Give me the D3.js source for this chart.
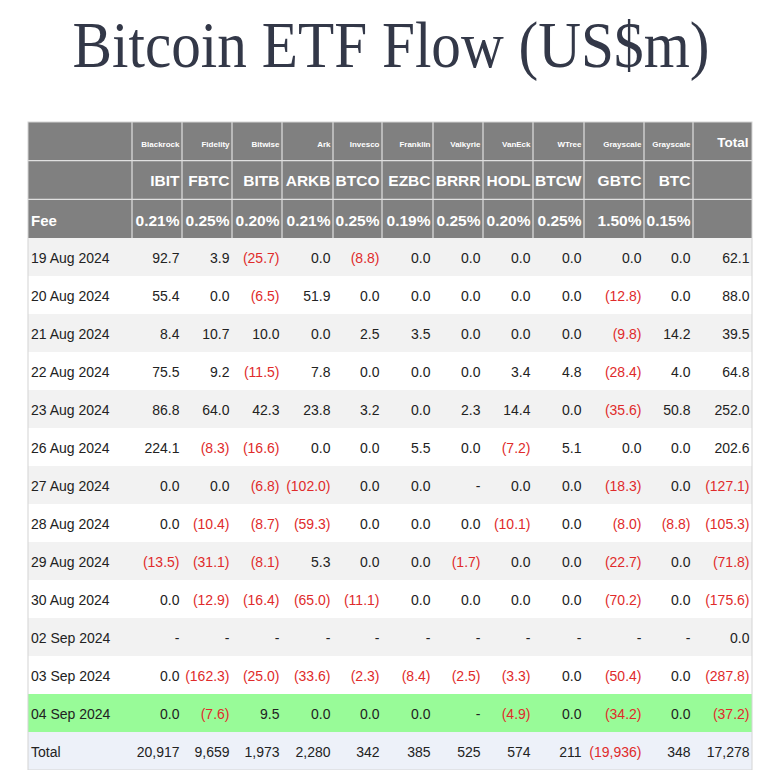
<!DOCTYPE html>
<html><head><meta charset="utf-8">
<script src="https://cdn.jsdelivr.net/npm/d3@7"></script>
<style>html,body{margin:0;padding:0;background:#fff;}svg{display:block;}</style>
</head><body>
<script>
// ---------- DATA ----------
const title = "Bitcoin ETF Flow (US$m)";
const issuers = ["Blackrock","Fidelity","Bitwise","Ark","Invesco","Franklin","Valkyrie","VanEck","WTree","Grayscale","Grayscale"];
const tickers = ["IBIT","FBTC","BITB","ARKB","BTCO","EZBC","BRRR","HODL","BTCW","GBTC","BTC"];
const fees = ["0.21%","0.25%","0.20%","0.21%","0.25%","0.19%","0.25%","0.20%","0.25%","1.50%","0.15%"];
const dates = ["19 Aug 2024","20 Aug 2024","21 Aug 2024","22 Aug 2024","23 Aug 2024","26 Aug 2024","27 Aug 2024","28 Aug 2024","29 Aug 2024","30 Aug 2024","02 Sep 2024","03 Sep 2024","04 Sep 2024"];
const IBIT = [92.7,55.4,8.4,75.5,86.8,224.1,0.0,0.0,-13.5,0.0,null,0.0,0.0];
const FBTC = [3.9,0.0,10.7,9.2,64.0,-8.3,0.0,-10.4,-31.1,-12.9,null,-162.3,-7.6];
const BITB = [-25.7,-6.5,10.0,-11.5,42.3,-16.6,-6.8,-8.7,-8.1,-16.4,null,-25.0,9.5];
const ARKB = [0.0,51.9,0.0,7.8,23.8,0.0,-102.0,-59.3,5.3,-65.0,null,-33.6,0.0];
const BTCO = [-8.8,0.0,2.5,0.0,3.2,0.0,0.0,0.0,0.0,-11.1,null,-2.3,0.0];
const EZBC = [0.0,0.0,3.5,0.0,0.0,5.5,0.0,0.0,0.0,0.0,null,-8.4,0.0];
const BRRR = [0.0,0.0,0.0,0.0,2.3,0.0,null,0.0,-1.7,0.0,null,-2.5,null];
const HODL = [0.0,0.0,0.0,3.4,14.4,-7.2,0.0,-10.1,0.0,0.0,null,-3.3,-4.9];
const BTCW = [0.0,0.0,0.0,4.8,0.0,5.1,0.0,0.0,0.0,0.0,null,0.0,0.0];
const GBTC = [0.0,-12.8,-9.8,-28.4,-35.6,0.0,-18.3,-8.0,-22.7,-70.2,null,-50.4,-34.2];
const BTC  = [0.0,0.0,14.2,4.0,50.8,0.0,0.0,-8.8,0.0,0.0,null,0.0,0.0];
const dailyTotal = [62.1,88.0,39.5,64.8,252.0,202.6,-127.1,-105.3,-71.8,-175.6,0.0,-287.8,-37.2];
const cumulativeTotal = [20917,9659,1973,2280,342,385,525,574,211,-19936,348,17278];
const highlightDate = "04 Sep 2024";

// ---------- LAYOUT ----------
const W = 782, H = 770;
const colEdges = [28,132,182,232,282,333,382,433,483,533,584,644,693,752];
const series = [IBIT,FBTC,BITB,ARKB,BTCO,EZBC,BRRR,HODL,BTCW,GBTC,BTC];
const headKeys = ["h1","h2","fee"];
const bodyKeys = [...dates, "total"];

const svg = d3.select("body").append("svg").attr("width", W).attr("height", H)
  .style("font-family", "Arial, 'Liberation Sans', sans-serif");

const yH = d3.scaleBand().domain(headKeys).range([122, 238]);
const yB = d3.scaleBand().domain(bodyKeys).range([238, 770]);
const yTop = k => headKeys.includes(k) ? yH(k) : yB(k);
const bw = k => headKeys.includes(k) ? yH.bandwidth() : yB.bandwidth();
const mid = k => yTop(k) + bw(k) / 2;

const colKeys = ["label", ...tickers.map((t,i)=>i), "total"];
const xRight = d3.scaleOrdinal().domain(colKeys).range(colEdges.slice(1));

// title
svg.append("text").attr("x", 391).attr("y", 67).attr("text-anchor", "middle")
  .attr("font-family", "'Liberation Serif','Times New Roman',serif")
  .attr("font-size", 66).attr("fill", "#333848")
  .attr("textLength", 637).attr("lengthAdjust", "spacingAndGlyphs")
  .text(title);

const L = colEdges[0], R = colEdges[colEdges.length - 1];

// header background
svg.append("rect").attr("x", L).attr("y", 122).attr("width", R - L)
  .attr("height", 238 - 122).attr("fill", "#808080");

// body row backgrounds
dates.forEach((d, i) => {
  let fill = i % 2 === 0 ? "#f2f2f2" : "#ffffff";
  if (d === highlightDate) fill = "#98fb98";
  svg.append("rect").attr("x", L).attr("y", yB(d)).attr("width", R - L)
    .attr("height", yB.bandwidth()).attr("fill", fill);
});
svg.append("rect").attr("x", L).attr("y", yB("total")).attr("width", R - L)
  .attr("height", yB.bandwidth()).attr("fill", "#edf1f9");

// header grid lines
colEdges.slice(1, -1).forEach(xe => {
  svg.append("line").attr("x1", xe).attr("x2", xe).attr("y1", 122).attr("y2", 238)
    .attr("stroke", "#e0e0e0").attr("stroke-width", 1.2);
});
["h2","fee"].forEach(k => {
  svg.append("line").attr("x1", L).attr("x2", R).attr("y1", yH(k)).attr("y2", yH(k))
    .attr("stroke", "#e0e0e0").attr("stroke-width", 1.2);
});
// outer border
svg.append("rect").attr("x", L).attr("y", 122).attr("width", R - L).attr("height", 770 - 122)
  .attr("fill", "none").attr("stroke", "#d4d4d4").attr("stroke-width", 1);

const pad = 2.5;

// header row 1: issuers
issuers.forEach((s, i) => {
  svg.append("text").attr("x", xRight(i) - pad).attr("y", mid("h1") + 6)
    .attr("text-anchor", "end").attr("font-size", 8).attr("font-weight", "bold")
    .attr("fill", "#fff").text(s);
});
svg.append("text").attr("x", xRight("total") - pad - 1).attr("y", mid("h1") + 5.5)
  .attr("text-anchor", "end").attr("font-size", 13.5).attr("font-weight", "bold")
  .attr("fill", "#fff").text("Total");

// header row 2: tickers
tickers.forEach((s, i) => {
  svg.append("text").attr("x", xRight(i) - pad).attr("y", mid("h2") + 5.5)
    .attr("text-anchor", "end").attr("font-size", 15.5).attr("font-weight", "bold")
    .attr("fill", "#fff").text(s);
});
// fee row
svg.append("text").attr("x", L + 3).attr("y", mid("fee") + 7)
  .attr("font-size", 15).attr("font-weight", "bold").attr("fill", "#fff").text("Fee");
fees.forEach((s, i) => {
  svg.append("text").attr("x", xRight(i) - pad).attr("y", mid("fee") + 7)
    .attr("text-anchor", "end").attr("font-size", 15.5).attr("font-weight", "bold")
    .attr("fill", "#fff").text(s);
});

const fmt1 = d3.format(".1f");
const fmtC = d3.format(",.0f");
const RED = "#e02b2b", INK = "#222";
function cell(v, f) {
  if (v === null) return { t: "-", c: INK };
  if (v < 0) return { t: "(" + f(-v) + ")", c: RED };
  return { t: f(v), c: INK };
}

// data rows
dates.forEach((d, r) => {
  svg.append("text").attr("x", L + 3).attr("y", mid(d) + 5.5)
    .attr("font-size", 14).attr("fill", INK).text(d);
  series.forEach((s, i) => {
    const c = cell(s[r], fmt1);
    svg.append("text").attr("x", xRight(i) - pad).attr("y", mid(d) + 5.5)
      .attr("text-anchor", "end").attr("font-size", 14).attr("fill", c.c).text(c.t);
  });
  const c = cell(dailyTotal[r], fmt1);
  svg.append("text").attr("x", xRight("total") - pad).attr("y", mid(d) + 5.5)
    .attr("text-anchor", "end").attr("font-size", 14).attr("fill", c.c).text(c.t);
});

// total row
svg.append("text").attr("x", L + 3).attr("y", mid("total") + 5.5)
  .attr("font-size", 14).attr("fill", INK).text("Total");
cumulativeTotal.forEach((v, i) => {
  const key = i < tickers.length ? i : "total";
  const c = cell(v, fmtC);
  svg.append("text").attr("x", xRight(key) - pad).attr("y", mid("total") + 5.5)
    .attr("text-anchor", "end").attr("font-size", 14).attr("fill", c.c).text(c.t);
});
</script>
</body></html>
